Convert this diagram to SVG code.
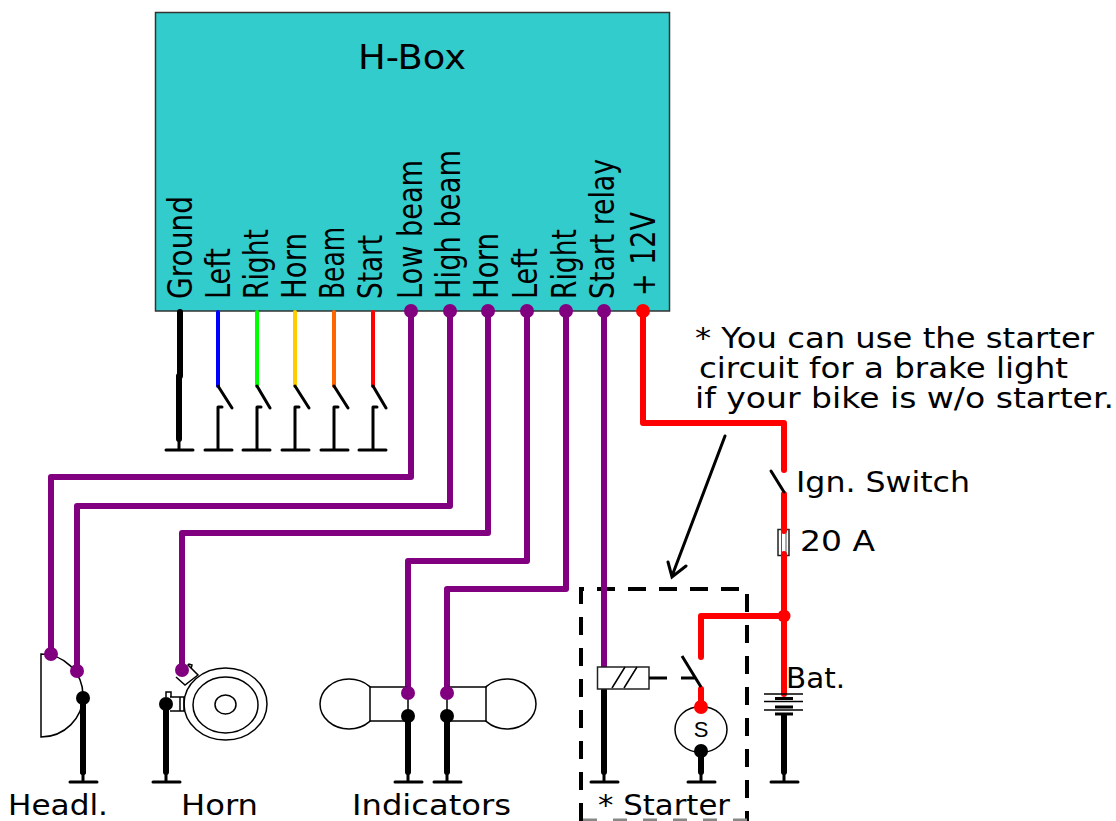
<svg xmlns="http://www.w3.org/2000/svg" width="1116" height="821" viewBox="0 0 1116 821">
<style>
text{font-family:"DejaVu Sans",Verdana,sans-serif;fill:#000}
.lab{font-size:29px}
.rot{font-family:"Open Sans","DejaVu Sans",sans-serif;font-size:33px}
.w{fill:none;stroke-linecap:round;stroke-linejoin:round}
.p{stroke:#800080;stroke-width:6}
.r{stroke:#f00;stroke-width:6}
.k{stroke:#000;stroke-width:6}
.s{fill:none;stroke:#000;stroke-width:3;stroke-linecap:round}
.g{fill:none;stroke:#000;stroke-width:3}
.o{fill:none;stroke:#000;stroke-width:1.5}
.b{fill:#fff;stroke:#222;stroke-width:1.5}
</style>
<g id="hbox">
<rect x="155.500" y="12.500" width="514" height="298.500" fill="#33cccc" stroke="#333" stroke-width="1.500"/>
<text x="358" y="69" font-size="34" textLength="108" lengthAdjust="spacingAndGlyphs">H-Box</text>
<g class="rot">
<text transform="translate(191.500,299) rotate(-90)" textLength="103" lengthAdjust="spacingAndGlyphs">Ground</text>
<text transform="translate(230,299) rotate(-90)" textLength="51" lengthAdjust="spacingAndGlyphs">Left</text>
<text transform="translate(267.500,299) rotate(-90)" textLength="70" lengthAdjust="spacingAndGlyphs">Right</text>
<text transform="translate(306,299) rotate(-90)" textLength="66" lengthAdjust="spacingAndGlyphs">Horn</text>
<text transform="translate(344,299) rotate(-90)" textLength="72" lengthAdjust="spacingAndGlyphs">Beam</text>
<text transform="translate(382,299) rotate(-90)" textLength="64" lengthAdjust="spacingAndGlyphs">Start</text>
<text transform="translate(421.500,299) rotate(-90)" textLength="139" lengthAdjust="spacingAndGlyphs">Low beam</text>
<text transform="translate(459.500,299) rotate(-90)" textLength="149" lengthAdjust="spacingAndGlyphs">High beam</text>
<text transform="translate(498,299) rotate(-90)" textLength="66" lengthAdjust="spacingAndGlyphs">Horn</text>
<text transform="translate(537,299) rotate(-90)" textLength="51" lengthAdjust="spacingAndGlyphs">Left</text>
<text transform="translate(576,299) rotate(-90)" textLength="70" lengthAdjust="spacingAndGlyphs">Right</text>
<text transform="translate(614,299) rotate(-90)" textLength="140" lengthAdjust="spacingAndGlyphs">Start relay</text>
<text transform="translate(655,296) rotate(-90)" textLength="84" lengthAdjust="spacingAndGlyphs">+ 12V</text>
</g>
</g>
<g id="starter-frame">
<path d="M581 821V589H747V821" fill="none" stroke="#000" stroke-width="4" stroke-dasharray="18 13"/>
<path d="M583 820H747" fill="none" stroke="#888" stroke-width="3" stroke-dasharray="14 16"/>
</g>
<g id="connectors">
<path class="w" stroke="#000" stroke-width="6" d="M180 312V376M179 376V439"/>
<path class="w" stroke="#00f" stroke-width="4" d="M218 312V386"/>
<path class="w" stroke="#0f0" stroke-width="4" d="M257 312V386"/>
<path class="w" stroke="#fc0" stroke-width="4" d="M295 312V386"/>
<path class="w" stroke="#f60" stroke-width="4" d="M334 312V386"/>
<path class="w" stroke="#f00" stroke-width="4" d="M373 312V386"/>
<path class="w p" d="M411 311V477H51V654"/>
<path class="w p" d="M450 311V506H77V671"/>
<path class="w p" d="M488 311V533H182V670"/>
<path class="w p" d="M527 311V561H408V693"/>
<path class="w p" d="M566 311V589H447V693"/>
<path class="w p" d="M604 311V667"/>
<path class="w r" d="M643 311V423H784V470M784 494V530M784 555V694M784 616H701V657M701 689V707"/>
<path class="w k" d="M83 698V772M166 704V772M408 716V772M447 716V772M604 690V772M701 751V772M784 716V772"/>
</g>
<g id="switches">
<path class="s" d="M218 386L232 408M218 407V450M218 407H222M205 450H232M257 386L270 408M257 407V450M257 407H261M243 450H270M295 386L309 408M295 407V450M295 407H299M282 450H309M334 386L348 408M334 407V450M334 407H338M321 450H348M373 386L386 408M373 407V450M373 407H377M359 450H386M166 450H193M179 439V450"/>
</g>
<g id="headlight">
<path class="o" d="M41 654V737A42 41.500 0 0 0 41 654Z"/>
<circle cx="51" cy="654" r="7" fill="#800080"/>
<circle cx="77" cy="671" r="7" fill="#800080"/>
<circle cx="83" cy="698" r="7" fill="#000"/>
<path class="k w" d="M83 698V772"/>
<path class="s" d="M83 772V782M70 782H97"/>
<text class="lab" x="8" y="815" textLength="100" lengthAdjust="spacingAndGlyphs">Headl.</text>
</g>
<g id="horn">
<ellipse cx="225.500" cy="704" rx="41.500" ry="36" class="o"/>
<ellipse cx="225.500" cy="705" rx="32.500" ry="28" class="o"/>
<ellipse cx="225.500" cy="704.500" rx="10.500" ry="9.500" class="o"/>
<path class="o" d="M176 677L185 685L198 675L188 665L189 664L192 665L191 669M170 697H184V711H170M180 697V711M166 697V692H171V697"/>
<circle cx="182" cy="670" r="7" fill="#800080"/>
<circle cx="166" cy="704" r="7" fill="#000"/>
<path class="s" d="M166 772V782M153 782H180"/>
<text class="lab" x="181" y="815" textLength="77" lengthAdjust="spacingAndGlyphs">Horn</text>
</g>
<g id="indicators">
<ellipse cx="349" cy="704" rx="29" ry="25" class="o"/>
<ellipse cx="507" cy="704" rx="29" ry="25" class="o"/>
<rect x="370" y="687" width="38" height="34" fill="#fff"/>
<rect x="447" y="687" width="39" height="34" fill="#fff"/>
<path class="o" d="M408 687H370V721H408M408 693V716M447 687H486V721H447M447 693V716"/>
<circle cx="408" cy="693" r="7" fill="#800080"/>
<circle cx="447" cy="693" r="7" fill="#800080"/>
<circle cx="408" cy="716" r="7" fill="#000"/>
<circle cx="447" cy="716" r="7" fill="#000"/>
<path class="s" d="M408 772V782M395 782H422M447 772V782M434 782H461"/>
<text class="lab" x="352" y="815" textLength="159" lengthAdjust="spacingAndGlyphs">Indicators</text>
</g>
<g id="starter">
<rect x="597.500" y="667" width="51.500" height="22" class="b"/>
<path class="o" d="M612 688L625 667M624 688L637 667"/>
<path class="g" d="M649 678H667M681 678H695M682 656L701 687"/>
<ellipse cx="701" cy="729.500" rx="26" ry="23" class="o"/>
<circle cx="701" cy="707" r="7" fill="#f00"/>
<circle cx="701" cy="751" r="7" fill="#000"/>
<text x="701" y="737" font-size="22" text-anchor="middle" style="font-family:'Liberation Sans',sans-serif">S</text>
<path class="s" d="M701 772V782M688 782H715M604 772V782M591 782H618"/>
<text class="lab" x="598" y="815" textLength="132" lengthAdjust="spacingAndGlyphs">* Starter</text>
</g>
<g id="battery">
<circle cx="784" cy="616" r="6.500" fill="#f00"/>
<path class="o" d="M764 694H803M764 701.500H803M764 710H803"/>
<path class="g" d="M775 698.500H793M775 707H793M775 714H793"/>
<path class="s" d="M784 772V782M771 782H798"/>
<text class="lab" x="786" y="688" textLength="59" lengthAdjust="spacingAndGlyphs">Bat.</text>
</g>
<g id="switch">
<path class="s" d="M771 471L784 492"/>
<text class="lab" x="796" y="492" textLength="174" lengthAdjust="spacingAndGlyphs">Ign. Switch</text>
</g>
<g id="fuse">
<rect x="778" y="529.500" width="11" height="26" class="b"/>
<path d="M784 526V531M784 554V558" stroke="#f00" stroke-width="6" stroke-linecap="round"/>
<path d="M781.500 531V554M786 531V554" stroke="#555" stroke-width="1"/>
<text class="lab" x="800" y="551" textLength="75" lengthAdjust="spacingAndGlyphs">20 A</text>
</g>
<g id="note">
<text class="lab" x="695" y="348" textLength="399" lengthAdjust="spacingAndGlyphs">* You can use the starter</text>
<text class="lab" x="699" y="378" textLength="369" lengthAdjust="spacingAndGlyphs">circuit for a brake light</text>
<text class="lab" x="695" y="408" textLength="419" lengthAdjust="spacingAndGlyphs">if your bike is w/o starter.</text>
<path d="M725 436L672 576M668 562L672 577L686 566" stroke="#000" stroke-width="3" fill="none" stroke-linecap="round"/>
</g>
<g id="terminals">
<circle cx="411" cy="311" r="7" fill="#800080"/>
<circle cx="450" cy="311" r="7" fill="#800080"/>
<circle cx="488" cy="311" r="7" fill="#800080"/>
<circle cx="527" cy="311" r="7" fill="#800080"/>
<circle cx="566" cy="311" r="7" fill="#800080"/>
<circle cx="604" cy="311" r="7" fill="#800080"/>
<circle cx="643" cy="311" r="7" fill="#f00"/>
</g>
</svg>
